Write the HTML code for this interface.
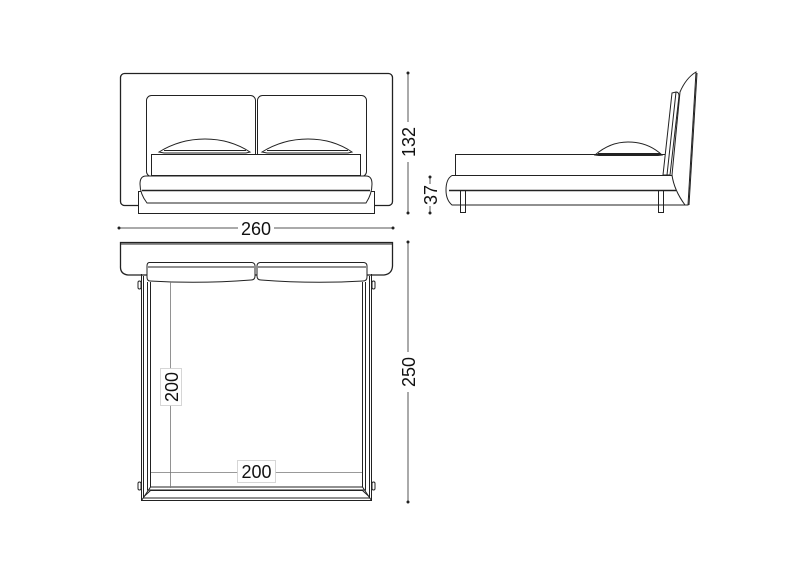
<!DOCTYPE html>
<html><head><meta charset="utf-8"><style>
html,body{margin:0;padding:0;background:#fff;}
svg{display:block;}
text{font-family:"Liberation Sans",sans-serif;fill:#111;}
</style></head><body>
<svg width="800" height="566" viewBox="0 0 800 566" xmlns="http://www.w3.org/2000/svg">
<g fill="none" stroke="#222" stroke-width="1">
<!-- FRONT VIEW -->
<rect x="120.5" y="73.5" width="272" height="132" rx="4" stroke-width="1.3"/>
<rect x="146.5" y="95.5" width="109" height="81" rx="5" fill="#fff"/>
<rect x="257.5" y="95.5" width="109" height="81" rx="5" fill="#fff"/>
<rect x="138.5" y="191.5" width="236" height="22" fill="#fff"/>
<path d="M146,176 L366,176 Q372,176 372,184 Q372,194 366,203 L147,203 Q140,194 140,184 Q140,176 146,176 Z" fill="#fff"/>
<line x1="142" y1="190.5" x2="370" y2="190.5" stroke-width="1.6"/>
<rect x="151.5" y="154.5" width="209" height="21" fill="#fff"/>
<path d="M159,152 Q180,139 205,139 Q230,139 250,152 L246,153 L164,153 Z" fill="#fff"/>
<line x1="164" y1="150.5" x2="246" y2="150.5"/>
<path d="M262,152 Q283,139 308,139 Q333,139 352,152 L348,153 L267,153 Z" fill="#fff"/>
<line x1="267" y1="150.5" x2="348" y2="150.5"/>
<!-- dims front -->
<line x1="408" y1="73" x2="408" y2="213" stroke="#555"/>
<line x1="119" y1="228" x2="393" y2="228" stroke="#555"/>
<line x1="430" y1="177" x2="430" y2="213" stroke="#555"/>
<!-- SIDE VIEW -->
<rect x="455.5" y="154.5" width="210" height="21"/>
<path d="M595,155 Q610,142 628,142 Q648,142 662,155 L658,155.5 L599,155.5 Z"/>
<line x1="598" y1="153.5" x2="660" y2="153.5"/>
<path d="M452,175.5 L672,175.5 L686,205 L452,205 Q446,200 446,190 Q446,179 452,175.5 Z" fill="#fff"/>
<line x1="449" y1="190.5" x2="676" y2="190.5" stroke-width="1.4"/>
<rect x="460.5" y="190.5" width="5" height="22"/>
<rect x="658.5" y="190.5" width="5" height="22"/>
<path d="M672,93 L676,92 L667,175 L663,175 Z" fill="#fff"/>
<path d="M676,92 Q679,92 679,96 L670,175 L666,175"/>
<path d="M696,72 Q686,78 680,92 L672,175 Q674,190 685,205 L688,205 L696,72 Z" fill="#fff"/>
<path d="M697,73 L689,205"/>
<!-- PLAN VIEW -->
<path d="M120.5,242.5 L392.5,242.5 L392.5,266 Q392,274 384,275 L128,275 Q120,274 120.5,266 Z" stroke-width="1.3"/>
<line x1="121" y1="244" x2="392" y2="244"/>
<path d="M141.5,274 L141.5,500.5 L371.5,500.5 L371.5,274"/>
<path d="M143.5,276 L143.5,498 L369.5,498 L369.5,276"/>
<path d="M147.5,282 L147.5,490 L365.5,490 L365.5,282"/>
<path d="M150.5,282 L150.5,487 L362.5,487 L362.5,282"/>
<line x1="141.5" y1="500.5" x2="150.5" y2="487"/>
<line x1="371.5" y1="500.5" x2="362.5" y2="487"/>
<path d="M143.5,497 L150.5,490.5 L362.5,490.5 L369.5,497"/>
<rect x="138" y="281" width="3" height="8" rx="1.5"/>
<rect x="138" y="482" width="3" height="8" rx="1.5"/>
<rect x="372" y="281" width="3" height="8" rx="1.5"/>
<rect x="372" y="482" width="3" height="8" rx="1.5"/>
<path d="M149,262.5 L252,262.5 Q255,263 255,266 L255,276 Q255,280 251,280 Q200,284 150,281 Q147,281 147,277 L147,266 Q147,263 149,262.5 Z" fill="#fff"/>
<line x1="148" y1="267" x2="254" y2="267"/>
<path d="M260,262.5 L364,262.5 Q367,263 367,266 L367,277 Q367,281 363,281 Q312,284 261,280 Q257,280 257,276 L257,266 Q257,263 260,262.5 Z" fill="#fff"/>
<line x1="258" y1="267" x2="366" y2="267"/>
<g stroke="#777" stroke-width="0.8">
<line x1="170.5" y1="282" x2="170.5" y2="488"/>
<line x1="151" y1="472.5" x2="362" y2="472.5"/>
</g>
<line x1="408" y1="242" x2="408" y2="502" stroke="#555"/>
</g>
<g fill="#222">
<circle cx="408" cy="73" r="1.5"/><circle cx="408" cy="213" r="1.5"/>
<circle cx="119" cy="228" r="1.5"/><circle cx="393" cy="228" r="1.5"/>
<circle cx="430" cy="177" r="1.5"/><circle cx="430" cy="213" r="1.5"/>
<circle cx="408" cy="242" r="1.5"/><circle cx="408" cy="502" r="1.5"/>
</g>
<!-- labels -->
<rect x="238" y="218" width="36" height="20" fill="#fff"/>
<text x="256" y="235" font-size="18" text-anchor="middle">260</text>
<rect x="398" y="122" width="20" height="40" fill="#fff"/>
<text transform="translate(415,142) rotate(-90)" font-size="18" text-anchor="middle">132</text>
<rect x="420" y="184" width="20" height="22" fill="#fff"/>
<text transform="translate(437,195) rotate(-90)" font-size="18" text-anchor="middle">37</text>
<rect x="398" y="352" width="20" height="40" fill="#fff"/>
<text transform="translate(415,372) rotate(-90)" font-size="18" text-anchor="middle">250</text>
<rect x="160.5" y="368.5" width="21" height="37" fill="#fff" stroke="#ccc" stroke-width="0.8"/>
<text transform="translate(178,387) rotate(-90)" font-size="18" text-anchor="middle">200</text>
<rect x="237.5" y="460.5" width="38" height="22" fill="#fff" stroke="#ccc" stroke-width="0.8"/>
<text x="256.5" y="478" font-size="18" text-anchor="middle">200</text>
</svg>
</body></html>
